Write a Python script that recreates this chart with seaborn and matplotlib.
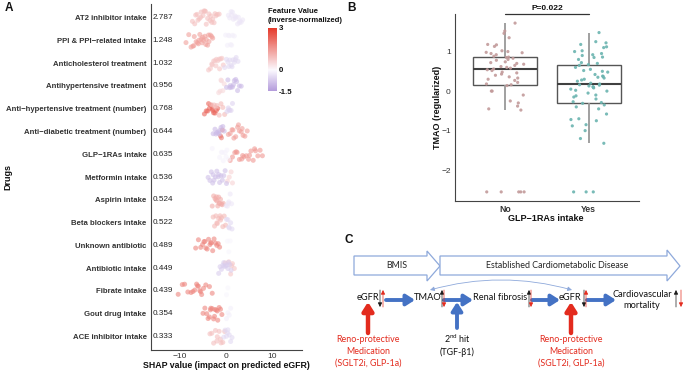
import pandas as pd
import matplotlib
matplotlib.use('Agg')
import matplotlib.pyplot as plt
import seaborn as sns
from matplotlib.colors import LinearSegmentedColormap, Normalize
from matplotlib.cm import ScalarMappable
from matplotlib.patches import Polygon

# ------------------------------------------------------------------
# data
# ------------------------------------------------------------------
drugs = ['AT2 inhibitor intake', 'PPI & PPI\u2212related intake', 'Anticholesterol treatment',
         'Antihypertensive treatment', 'Anti\u2212hypertensive treatment (number)',
         'Anti\u2212diabetic treatment (number)', 'GLP\u22121RAs intake', 'Metformin intake',
         'Aspirin intake', 'Beta blockers intake', 'Unknown antibiotic', 'Antibiotic intake',
         'Fibrate intake', 'Gout drug intake', 'ACE inhibitor intake']
mean_abs_shap = [2.787, 1.248, 1.032, 0.956, 0.768, 0.644, 0.635, 0.536,
                 0.524, 0.522, 0.489, 0.449, 0.439, 0.354, 0.333]

# SHAP values per drug, split by feature level (high / mid / low)
shap_hi = [
    [-7.3, -6.8, -6.6, -6.1, -5.8, -5.5, -5.4, -5.0, -4.8, -4.5, -4.3, -4.0, -3.7, -3.5, -3.1, -2.9, -2.6, -2.2, -1.9, -1.5, -6.3, -4.6, -3.3, -2.4],
    [-8.7, -8.1, -7.6, -7.2, -6.9, -6.5, -6.2, -5.9, -5.7, -5.4, -5.1, -4.9, -4.6, -4.3, -4.0, -3.7, -3.4, -3.1, -2.9, -6.0, -5.2, -4.4, -3.8, -7.0],
    [-3.8, -3.4, -3.0, -2.7, -2.4, -2.1, -1.8, -1.5, -1.2, -0.9, -0.6, -3.1, -2.2, -1.4],
    [-1.6, -1.3, -1.0, -0.7, -0.4, -1.1],
    [-4.7, -4.3, -4.0, -3.6, -3.3, -3.0, -2.7, -2.4, -2.1, -1.8, -3.8, -2.9],
    [0.5, 0.9, 1.3, 1.7, 2.1, 2.5, 2.9, 3.3, 3.7, 4.1, 4.6, 1.5, 2.7, 3.5],
    [0.9, 1.4, 1.9, 2.4, 2.9, 3.4, 3.9, 4.4, 4.9, 5.4, 5.9, 6.4, 6.9, 7.4, 7.9, 2.2, 3.6, 5.1, 6.2],
    [0.3, 0.7, 1.1, 1.4],
    [-3.0, -2.7, -2.4, -2.2, -2.0, -1.8, -1.6, -1.4, -1.2, -1.0, -0.8, -0.6, -2.1, -1.5],
    [-2.8, -2.5, -2.2, -1.9, -1.6, -1.3, -1.0, -0.7, -0.4, -0.1, -2.0, -1.2],
    [-6.6, -6.0, -5.5, -5.1, -4.8, -4.4, -4.1, -3.8, -3.5, -3.2, -2.9, -2.6, -2.3, -2.0, -1.7, -1.4, -4.6, -3.3],
    [-0.2, 0.6, 1.0, 1.4, 1.8, 1.2],
    [-10.4, -9.5, -9.0, -8.3, -7.6, -7.2, -6.8, -6.4, -6.0, -5.7, -5.3, -4.9, -4.4, -3.6, -3.0, -6.2, -5.5],
    [-5.0, -4.6, -4.2, -3.9, -3.6, -3.3, -3.0, -2.7, -2.4, -2.1, -1.8, -1.5, -1.2, -0.9, -3.4, -2.5, -1.9],
    [-3.5, -3.1, -2.7, -2.3, -1.9, -1.5, -1.1, -0.7, -0.3, -2.0, -1.2],
]
shap_mid = [[], [], [], [], [-3.2, -2.6, -2.0, -1.5, -1.1, -0.7, -0.3, -2.3],
            [-1.2, -1.0, -0.8], [], [], [], [], [], [], [], [], []]
shap_lo = [
    [0.5, 0.8, 1.1, 1.4, 1.6, 1.9, 2.2, 2.5, 2.7, 3.0, 3.3, 3.6, 1.2, 2.0, 2.9],
    [-0.1, 0.3, 0.7, 1.0, 1.4, 1.8, 0.5, 1.2],
    [-0.3, 0.1, 0.4, 0.8, 1.1, 1.5, 1.8, 2.2, 2.6, 0.6, 1.3, 2.0],
    [0.1, 0.4, 0.8, 1.1, 1.4, 1.8, 2.1, 2.5, 2.9, 3.3, 0.9, 1.6, 2.3],
    [0.2, 0.5, 0.8, 1.1, 1.4, 0.6],
    [-2.8, -2.4, -2.0, -1.7, -1.4, -1.1, -0.7, -0.4, -2.2, -1.5],
    [-3.0, -1.4, -1.0, -0.6, -0.2, 0.2, 0.6, -0.8, 0.0],
    [-3.9, -3.5, -3.2, -2.9, -2.6, -2.3, -2.0, -1.7, -1.4, -1.1, -0.8, -0.5, -0.2, 0.1, -2.8, -1.6],
    [0.0, 0.3, 0.6, 0.9, 1.2, 0.5],
    [0.1, 0.4, 0.7, 1.0, 1.3, 0.6],
    [0.3, 0.6, 0.9],
    [-1.6, -1.3, -1.0, -0.7, -0.4, -0.1, 0.2, 0.5, 0.8, 1.1, -0.5, 0.4],
    [0.1, 0.4],
    [0.1, 0.4, 0.7, 1.0],
    [-0.5, -0.2, 0.1, 0.4, 0.7, 1.0, 1.3, 0.3],
]
feat_hi = [0.9, 1.4, 0.8, 0.5, 2.3, 1.4, 1.5, 0.6, 1.2, 1.0, 1.8, 0.8, 1.8, 1.8, 0.9]
feat_mid = [0.0, 0.0, 0.0, 0.0, 1.0, 2.0, 0.0, 0.0, 0.0, 0.0, 0.0, 0.0, 0.0, 0.0, 0.0]
feat_lo = [-0.3, -0.15, -0.5, -1.0, -0.6, -1.0, -0.1, -0.9, -0.3, -0.5, -0.05, -0.7, -0.05, -0.15, -0.5]

# TMAO by GLP-1RAs intake
tmao_no = [-2.55, -2.55, -2.55, -2.55, -2.55,
           -0.48, -0.45, -0.38, -0.30, -0.25, -0.10, 0.0, 0.0, 0.14, 0.16,
           0.18, 0.22, 0.27, 0.30, 0.33, 0.36, 0.40, 0.43, 0.46, 0.48, 0.52, 0.54, 0.56,
           0.58, 0.60, 0.62, 0.65, 0.68, 0.70, 0.72, 0.74, 0.78, 0.80, 0.83, 0.85, 0.86, 0.88,
           0.92, 0.95, 0.97, 0.98, 1.00, 1.02, 1.13, 1.17, 1.18, 1.35, 1.46, 1.52, 1.72]
tmao_yes = [-2.55, -2.55, -2.55,
            -1.32, -1.20, -1.00, -0.88, -0.85, -0.75, -0.72, -0.70, -0.58, -0.45, -0.40, -0.35, -0.31, -0.29,
            -0.27, -0.20, -0.15, -0.12, -0.10, -0.05, 0.0, 0.02, 0.05, 0.08, 0.10, 0.11, 0.13, 0.15, 0.16, 0.18,
            0.20, 0.25, 0.28, 0.30, 0.33, 0.35, 0.37, 0.38, 0.42, 0.48, 0.50, 0.52, 0.55, 0.60, 0.65, 0.67,
            0.70, 0.72, 0.80, 0.85, 0.86, 0.90, 0.92, 0.95, 1.00, 1.02, 1.10, 1.12, 1.18, 1.22, 1.25, 1.48]
groups = ['No', 'Yes']

# ------------------------------------------------------------------
# figure / helpers
# ------------------------------------------------------------------
sns.set_theme(style='white')
plt.rcParams['font.family'] = ['Liberation Sans', 'DejaVu Sans']

W, H = 685, 373
fig = plt.figure(figsize=(W / 100, H / 100), dpi=100)


def px_box(x0, y0, x1, y1):
    return [x0 / W, 1 - y1 / H, (x1 - x0) / W, (y1 - y0) / H]


txt = '#333333'
cmap = LinearSegmentedColormap.from_list(
    'shap', [(0, '#B39BDB'), (1 / 3, '#FBF9FE'), (1, '#E5392A')], N=256)
norm = Normalize(-1.5, 3)

# ------------------------------------------------------------------
# A. SHAP summary
# ------------------------------------------------------------------
rows = []
for i, d in enumerate(drugs):
    for vals, lev in ((shap_hi[i], feat_hi[i]), (shap_mid[i], feat_mid[i]), (shap_lo[i], feat_lo[i])):
        for v in vals:
            rows.append((d, v, lev))
df_shap = pd.DataFrame(rows, columns=['drug', 'shap', 'feat'])
pal = {lev: cmap(norm(lev)) for lev in df_shap['feat'].unique()}

axA = fig.add_axes(px_box(151, 4, 302, 350))
sns.stripplot(data=df_shap, x='shap', y='drug', hue='feat', palette=pal, order=drugs,
              jitter=0.3, size=3.6, alpha=0.6, linewidth=0, legend=False, ax=axA)
axA.set_xlim(-16.3, 16.5)
axA.set_ylim(14.6, -0.6)
axA.set_xticks([-10, 0, 10])
axA.set_xticklabels(['\u221210', '0', '10'], fontsize=6, color=txt)
axA.set_yticks(range(len(drugs)))
axA.set_yticklabels(drugs, fontsize=5.6, fontweight='bold', color=txt)
axA.tick_params(axis='y', length=2, width=0.6, pad=1.2, colors=txt)
axA.tick_params(axis='x', length=1.5, width=0.6, pad=0.5, colors=txt)
for i, m in enumerate(mean_abs_shap):
    axA.text(-15.9, i, f'{m:.3f}', va='center', ha='left', fontsize=5.9, color='#222222')
sns.despine(ax=axA)
for s in ['left', 'bottom']:
    axA.spines[s].set_color('#444444')
    axA.spines[s].set_linewidth(0.8)
axA.set_xlabel('SHAP value (impact on predicted eGFR)', fontsize=6.3, fontweight='bold', color='#111111')
axA.set_ylabel('Drugs', fontsize=6.5, fontweight='bold', color='#111111')
axA.xaxis.set_label_coords(0.5, -0.031)
axA.yaxis.set_label_coords(-0.915, 0.5)

# colour bar
cax = fig.add_axes(px_box(268, 28, 277, 91))
cb = fig.colorbar(ScalarMappable(norm=norm, cmap=cmap), cax=cax, ticks=[-1.5, 0, 3])
cb.outline.set_visible(False)
cb.ax.set_yticklabels(['-1.5', '0', '3'], fontsize=5.7, fontweight='bold', color='#111111')
cb.ax.tick_params(length=0, pad=1)

# ------------------------------------------------------------------
# B. TMAO boxplot
# ------------------------------------------------------------------
df_tmao = pd.DataFrame({'group': ['No'] * len(tmao_no) + ['Yes'] * len(tmao_yes),
                        'tmao': tmao_no + tmao_yes})
axB = fig.add_axes(px_box(455, 14, 639, 201))
sns.boxplot(data=df_tmao, x='group', y='tmao', order=groups, width=0.76, color='white',
            linecolor='#555555', linewidth=1.0, showfliers=False, showcaps=False,
            whiskerprops=dict(color='#999999', linewidth=1.3),
            medianprops=dict(color='#404040', linewidth=1.5), ax=axB)
sns.stripplot(data=df_tmao, x='group', y='tmao', hue='group', order=groups,
              palette={'No': '#C29A9A', 'Yes': '#6BB4B0'}, jitter=0.23, size=2.3,
              alpha=0.9, linewidth=0, legend=False, zorder=3, ax=axB)
axB.set_xlim(-0.6, 1.6)
axB.set_ylim(-2.78, 1.95)
axB.set_yticks([-2, -1, 0, 1])
axB.set_yticklabels(['\u22122', '\u22121', '0', '1'], fontsize=6, color=txt)
axB.set_xticks([0, 1])
axB.set_xticklabels(groups, fontsize=6.3, fontweight='bold', color='#444444')
axB.tick_params(length=2, width=0.6, pad=1, colors=txt)
sns.despine(ax=axB)
for s in ['left', 'bottom']:
    axB.spines[s].set_color('#444444')
    axB.spines[s].set_linewidth(0.8)
axB.set_xlabel('GLP\u22121RAs intake', fontsize=6.5, fontweight='bold', color='#111111')
axB.set_ylabel('TMAO (regularized)', fontsize=6.5, fontweight='bold', color='#111111')
axB.xaxis.set_label_coords(0.495, -0.07)
axB.yaxis.set_label_coords(-0.07, 0.5)
axB.plot([0, 1], [1.95, 1.95], color='#333333', lw=0.9, clip_on=False)
axB.text(0.5, 1.99, 'P=0.022', ha='center', va='bottom', fontsize=6, fontweight='bold', color='#111111')

# ------------------------------------------------------------------
# overlay: panel letters, legend title and diagram C
# ------------------------------------------------------------------
ov = fig.add_axes([0, 0, 1, 1])
ov.set_xlim(0, W)
ov.set_ylim(H, 0)
ov.axis('off')

for lab, x, y in [('A', 9, 8), ('B', 352, 8), ('C', 349, 240)]:
    ov.text(x, y, lab, fontsize=8.5, fontweight='bold', ha='center', va='center', color='#111111')
ov.text(268, 16, 'Feature Value\n(Inverse-normalized)', fontsize=5.5, fontweight='bold',
        ha='left', va='center', linespacing=1.55, color='#111111')

cf = ['Lato', 'DejaVu Sans']
blue = '#4472C4'
red = '#E32B1E'
edge = '#8EA9DB'

# stage arrows
stage1 = [(354, 256), (427, 256), (427, 251), (440, 266), (427, 281), (427, 275), (354, 275)]
stage2 = [(440, 256), (667, 256), (667, 250), (680, 266), (667, 281), (667, 275), (440, 275)]
for pts in (stage1, stage2):
    ov.add_patch(Polygon(pts, closed=True, facecolor='white', edgecolor=edge, lw=0.9))
ov.text(397, 265.5, 'BMIS', family=cf, fontsize=6.4, ha='center', va='center')
ov.text(557, 265.5, 'Established Cardiometabolic Disease', family=cf, fontsize=6.4,
        ha='center', va='center')

# nodes
for s, x in [('eGFR', 368), ('TMAO', 428), ('Renal fibrosis', 500), ('eGFR', 570)]:
    ov.text(x, 298, s, family=cf, fontsize=6.7, ha='center', va='center', color='#111111')
ov.text(642, 300, 'Cardiovascular\nmortality', family=cf, fontsize=6.7, ha='center', va='center',
        linespacing=1.3, color='#111111')

big = '-|>,head_length=0.5,head_width=0.32'
for x0, x1 in [(386, 415), (444, 473), (532, 560), (587, 616)]:
    ov.annotate('', xy=(x1, 300), xytext=(x0, 300),
                arrowprops=dict(arrowstyle=big, color=blue, lw=2.8, mutation_scale=10, shrinkA=0, shrinkB=0))
ov.annotate('', xy=(457, 302), xytext=(457, 328),
            arrowprops=dict(arrowstyle=big, color=blue, lw=2.8, mutation_scale=10, shrinkA=0, shrinkB=0))
for x in (368, 571):
    ov.annotate('', xy=(x, 302), xytext=(x, 333),
                arrowprops=dict(arrowstyle=big, color=red, lw=3.2, mutation_scale=10, shrinkA=0, shrinkB=0))
ov.annotate('', xy=(572, 290), xytext=(430, 290),
            arrowprops=dict(arrowstyle='<|-|>,head_length=0.5,head_width=0.25', color=edge, lw=0.6,
                            mutation_scale=5, shrinkA=0, shrinkB=0, connectionstyle='arc3,rad=-0.14'))

small = '-|>,head_length=0.5,head_width=0.25'
# (x, direction) for black and red indicator arrows
for xb, db, xr, dr in [(380, 1, 383, -1), (442, -1, 444, 1), (529, -1, 531, 1),
                       (584, 1, 586, -1), (676, -1, 681, 1)]:
    for x, d, c in ((xb, db, 'k'), (xr, dr, red)):
        y0, y1 = (290, 307) if d == 1 else (307, 290)
        ov.annotate('', xy=(x, y1), xytext=(x, y0),
                    arrowprops=dict(arrowstyle=small, color=c, lw=0.5, mutation_scale=5, shrinkA=0, shrinkB=0))

for x in (368, 571):
    ov.text(x, 351, 'Reno-protective\nMedication\n(SGLT2i, GLP-1a)', family=cf, fontsize=6.4,
            ha='center', va='center', color=red, linespacing=1.4)
ov.text(457, 345, '2$^{\\mathregular{nd}}$ hit\n(TGF-\u03b21)', family=cf, fontsize=6.4,
        ha='center', va='center', color='#111111', linespacing=1.4)

fig.savefig('out.png', dpi=100)
